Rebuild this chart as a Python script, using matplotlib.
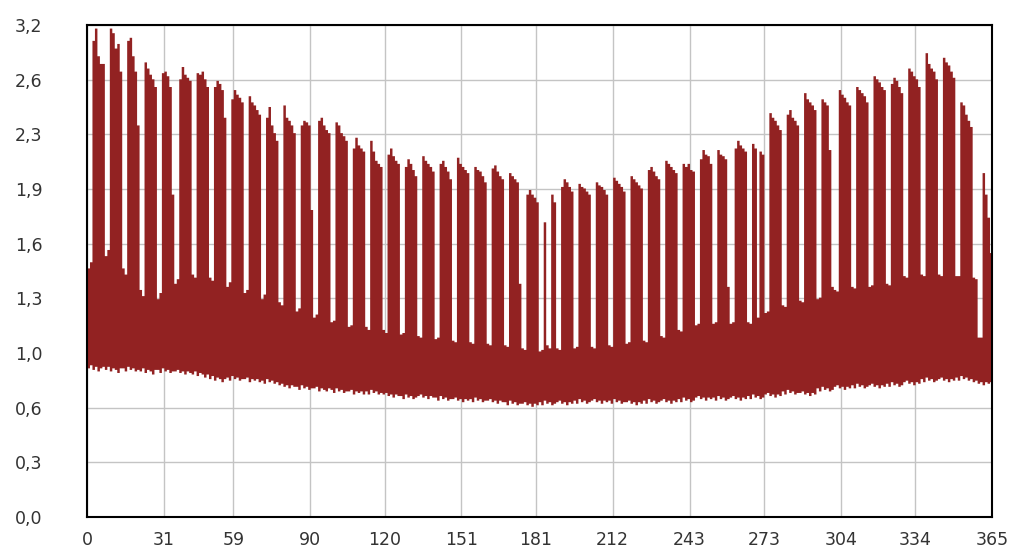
import numpy as np
import matplotlib
matplotlib.use("Agg")
import matplotlib.pyplot as plt

# Daily maximum per week: [Sat, Sun, Mon, Tue, Wed, Thu, Fri]  (day 0 = Saturday)
weekly_max = [
    [1.62, 1.66, 3.10, 3.18, 3.00, 2.95, 2.95],
    [1.70, 1.74, 3.18, 3.15, 3.05, 3.08, 2.90],
    [1.62, 1.58, 3.10, 3.12, 3.00, 2.90, 2.55],
    [1.48, 1.44, 2.96, 2.92, 2.88, 2.85, 2.80],
    [1.42, 1.46, 2.89, 2.90, 2.87, 2.80, 2.10],
    [1.52, 1.55, 2.85, 2.93, 2.88, 2.86, 2.84],
    [1.58, 1.56, 2.89, 2.88, 2.90, 2.85, 2.80],
    [1.56, 1.54, 2.80, 2.84, 2.82, 2.78, 2.60],
    [1.50, 1.53, 2.72, 2.78, 2.75, 2.73, 2.70],
    [1.46, 1.48, 2.74, 2.70, 2.68, 2.65, 2.62],
    [1.42, 1.45, 2.60, 2.67, 2.55, 2.50, 2.45],
    [1.40, 1.38, 2.68, 2.60, 2.58, 2.55, 2.50],
    [1.34, 1.36, 2.55, 2.58, 2.57, 2.55, 2.00],
    [1.30, 1.32, 2.58, 2.60, 2.55, 2.52, 2.50],
    [1.27, 1.28, 2.57, 2.55, 2.50, 2.48, 2.45],
    [1.24, 1.25, 2.40, 2.47, 2.42, 2.40, 2.38],
    [1.24, 1.22, 2.45, 2.38, 2.32, 2.30, 2.28],
    [1.22, 1.20, 2.36, 2.40, 2.35, 2.32, 2.30],
    [1.19, 1.20, 2.28, 2.33, 2.30, 2.26, 2.22],
    [1.18, 1.17, 2.35, 2.32, 2.30, 2.28, 2.25],
    [1.16, 1.17, 2.30, 2.32, 2.28, 2.25, 2.20],
    [1.15, 1.14, 2.34, 2.30, 2.28, 2.26, 2.24],
    [1.14, 1.13, 2.28, 2.26, 2.25, 2.22, 2.18],
    [1.13, 1.12, 2.27, 2.29, 2.25, 2.22, 2.20],
    [1.12, 1.11, 2.24, 2.22, 2.20, 2.18, 1.52],
    [1.10, 1.09, 2.10, 2.13, 2.10, 2.08, 2.05],
    [1.08, 1.09, 1.92, 1.12, 1.10, 2.10, 2.05],
    [1.10, 1.09, 2.15, 2.20, 2.18, 2.15, 2.12],
    [1.10, 1.11, 2.17, 2.15, 2.14, 2.12, 2.10],
    [1.11, 1.10, 2.18, 2.16, 2.15, 2.13, 2.10],
    [1.12, 1.11, 2.21, 2.19, 2.17, 2.15, 2.12],
    [1.13, 1.14, 2.22, 2.20, 2.18, 2.16, 2.14],
    [1.15, 1.14, 2.26, 2.28, 2.25, 2.22, 2.20],
    [1.18, 1.17, 2.32, 2.30, 2.28, 2.26, 2.24],
    [1.22, 1.21, 2.30, 2.28, 2.30, 2.26, 2.25],
    [1.25, 1.26, 2.33, 2.39, 2.36, 2.35, 2.30],
    [1.26, 1.27, 2.39, 2.36, 2.35, 2.33, 1.50],
    [1.26, 1.27, 2.40, 2.45, 2.42, 2.40, 2.38],
    [1.27, 1.26, 2.43, 2.40, 1.30, 2.38, 2.36],
    [1.33, 1.34, 2.63, 2.60, 2.58, 2.55, 2.52],
    [1.38, 1.37, 2.62, 2.65, 2.60, 2.58, 2.55],
    [1.41, 1.40, 2.76, 2.72, 2.70, 2.68, 2.65],
    [1.42, 1.43, 2.72, 2.70, 2.68, 2.39, 1.50],
    [1.48, 1.47, 2.78, 2.75, 2.73, 2.70, 2.68],
    [1.50, 1.49, 2.80, 2.78, 2.76, 2.74, 2.70],
    [1.50, 1.51, 2.87, 2.85, 2.83, 2.80, 2.78],
    [1.52, 1.51, 2.82, 2.86, 2.84, 2.80, 2.76],
    [1.57, 1.56, 2.92, 2.90, 2.87, 2.85, 2.80],
    [1.58, 1.57, 3.02, 2.95, 2.92, 2.90, 2.85],
    [1.58, 1.57, 2.99, 2.96, 2.94, 2.90, 2.86],
    [1.57, 1.57, 2.70, 2.68, 2.62, 2.58, 2.54],
    [1.56, 1.55, 1.17, 1.17, 2.24, 2.10, 1.95],
    [1.72],
]

# Daily minimum per week
weekly_min = [
    [0.97, 0.99, 0.96, 0.98, 0.95, 0.97, 0.98],
    [0.96, 0.98, 0.95, 0.97, 0.96, 0.94, 0.97],
    [0.97, 0.95, 0.98, 0.96, 0.97, 0.95, 0.96],
    [0.95, 0.97, 0.94, 0.96, 0.95, 0.93, 0.96],
    [0.96, 0.94, 0.97, 0.95, 0.96, 0.94, 0.95],
    [0.95, 0.96, 0.94, 0.95, 0.93, 0.95, 0.94],
    [0.93, 0.95, 0.92, 0.94, 0.93, 0.91, 0.93],
    [0.90, 0.92, 0.89, 0.91, 0.90, 0.88, 0.90],
    [0.91, 0.89, 0.92, 0.90, 0.91, 0.89, 0.90],
    [0.90, 0.91, 0.88, 0.90, 0.89, 0.90, 0.88],
    [0.89, 0.87, 0.90, 0.88, 0.89, 0.87, 0.88],
    [0.86, 0.87, 0.85, 0.86, 0.84, 0.86, 0.85],
    [0.85, 0.83, 0.86, 0.84, 0.85, 0.83, 0.84],
    [0.84, 0.85, 0.82, 0.84, 0.83, 0.82, 0.84],
    [0.83, 0.81, 0.84, 0.82, 0.83, 0.81, 0.82],
    [0.82, 0.83, 0.80, 0.82, 0.81, 0.82, 0.80],
    [0.82, 0.80, 0.83, 0.81, 0.82, 0.80, 0.81],
    [0.80, 0.81, 0.79, 0.80, 0.78, 0.80, 0.79],
    [0.79, 0.77, 0.80, 0.78, 0.79, 0.77, 0.78],
    [0.79, 0.80, 0.78, 0.79, 0.77, 0.79, 0.78],
    [0.78, 0.76, 0.79, 0.77, 0.78, 0.76, 0.77],
    [0.77, 0.78, 0.76, 0.77, 0.75, 0.77, 0.76],
    [0.77, 0.75, 0.78, 0.76, 0.77, 0.75, 0.76],
    [0.76, 0.77, 0.75, 0.76, 0.74, 0.76, 0.75],
    [0.75, 0.73, 0.76, 0.74, 0.75, 0.73, 0.74],
    [0.74, 0.75, 0.73, 0.74, 0.72, 0.74, 0.73],
    [0.75, 0.73, 0.76, 0.74, 0.75, 0.73, 0.74],
    [0.75, 0.76, 0.74, 0.75, 0.73, 0.75, 0.74],
    [0.76, 0.74, 0.77, 0.75, 0.76, 0.74, 0.75],
    [0.76, 0.77, 0.75, 0.76, 0.74, 0.76, 0.75],
    [0.76, 0.74, 0.77, 0.75, 0.76, 0.74, 0.75],
    [0.75, 0.76, 0.74, 0.75, 0.73, 0.75, 0.74],
    [0.76, 0.74, 0.77, 0.75, 0.76, 0.74, 0.75],
    [0.76, 0.77, 0.75, 0.76, 0.74, 0.76, 0.75],
    [0.77, 0.75, 0.78, 0.76, 0.77, 0.75, 0.76],
    [0.78, 0.79, 0.77, 0.78, 0.76, 0.78, 0.77],
    [0.78, 0.76, 0.79, 0.77, 0.78, 0.76, 0.77],
    [0.78, 0.79, 0.77, 0.78, 0.76, 0.78, 0.77],
    [0.79, 0.77, 0.80, 0.78, 0.79, 0.77, 0.78],
    [0.80, 0.81, 0.79, 0.80, 0.78, 0.80, 0.79],
    [0.82, 0.80, 0.83, 0.81, 0.82, 0.80, 0.81],
    [0.81, 0.82, 0.80, 0.81, 0.79, 0.81, 0.80],
    [0.84, 0.82, 0.85, 0.83, 0.84, 0.82, 0.83],
    [0.85, 0.86, 0.84, 0.85, 0.83, 0.85, 0.84],
    [0.86, 0.84, 0.87, 0.85, 0.86, 0.84, 0.85],
    [0.86, 0.87, 0.85, 0.86, 0.84, 0.86, 0.85],
    [0.87, 0.85, 0.88, 0.86, 0.87, 0.85, 0.86],
    [0.88, 0.89, 0.87, 0.88, 0.86, 0.88, 0.87],
    [0.90, 0.88, 0.91, 0.89, 0.90, 0.88, 0.89],
    [0.90, 0.91, 0.89, 0.90, 0.88, 0.90, 0.89],
    [0.91, 0.89, 0.92, 0.90, 0.91, 0.89, 0.90],
    [0.88, 0.89, 0.87, 0.88, 0.86, 0.88, 0.87],
    [0.88],
]

x_ticks = [0, 31, 59, 90, 120, 151, 181, 212, 243, 273, 304, 334, 365]
y_tick_labels = ["0,0", "0,3", "0,6", "1,0", "1,3", "1,6", "1,9", "2,3", "2,6", "3,2"]

daily_max = np.array([v for w in weekly_max for v in w])
daily_min = np.array([v for w in weekly_min for v in w])
n_days = len(daily_max)
edges = np.arange(n_days + 1)
ymax_step = np.append(daily_max, daily_max[-1])
ymin_step = np.append(daily_min, daily_min[-1])

fig = plt.figure(figsize=(10.19, 5.53), dpi=100)
ax = fig.add_axes([87 / 1019, 36 / 553, (992 - 87) / 1019, (517 - 25) / 553])

ax.fill_between(edges, ymin_step, ymax_step, step="post",
                color="#922222", linewidth=0, zorder=2)

ax.set_xlim(0, 365)
ax.set_ylim(0, 3.2)
ax.set_xticks(x_ticks)
ax.set_xticklabels([str(t) for t in x_ticks])
ax.set_yticks(np.linspace(0, 3.2, 10))
ax.set_yticklabels(y_tick_labels)
ax.grid(True, color="#c4c4c4", linewidth=1.0, zorder=0)
ax.set_axisbelow(True)
ax.tick_params(axis="both", length=0, labelsize=12.5, colors="#333333")
ax.tick_params(axis="y", pad=32)
ax.tick_params(axis="x", pad=10)
for s in ax.spines.values():
    s.set_color("black")
    s.set_linewidth(1.5)

fig.savefig("out.png", dpi=100)
